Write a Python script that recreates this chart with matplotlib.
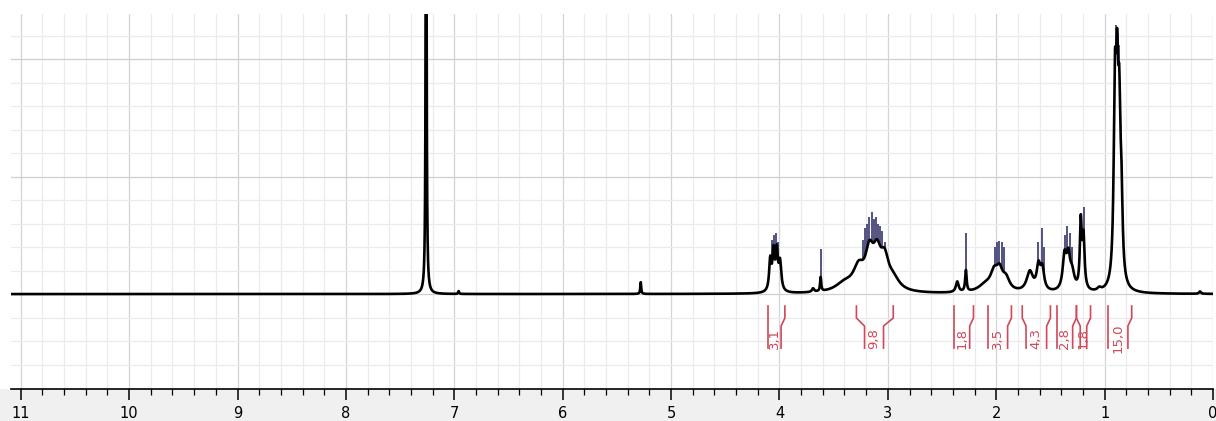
import numpy as np
import matplotlib
matplotlib.use("Agg")
import matplotlib.pyplot as plt
from matplotlib.patches import Rectangle

# ---------------- data ----------------
# peak list: chemical shift (ppm), height (grid units), half width (ppm)
peak_ppm = [7.26, 6.96, 5.28, 4.085, 4.055, 4.025, 3.995, 3.69, 3.62,
            3.40, 3.27, 3.17, 3.10, 3.03, 2.95, 2.36, 2.28, 2.10, 2.02, 1.97,
            1.91, 1.69, 1.61, 1.575, 1.37, 1.335, 1.30, 1.22, 1.195, 1.05,
            0.905, 0.885, 0.865, 0.845, 0.12]
peak_h = [30.0, 0.12, 0.5, 1.3, 1.6, 1.6, 1.2, 0.15, 0.6,
          0.35, 0.9, 1.45, 1.35, 1.15, 0.45, 0.45, 0.9, 0.3, 0.7, 0.75,
          0.5, 0.85, 1.0, 0.9, 1.4, 1.3, 0.7, 2.8, 2.2, 0.12,
          7.5, 7.0, 6.0, 3.0, 0.1]
peak_w = [0.004, 0.005, 0.005, 0.012, 0.012, 0.012, 0.014, 0.012, 0.006,
          0.10, 0.06, 0.045, 0.045, 0.045, 0.07, 0.015, 0.008, 0.08, 0.04, 0.035,
          0.04, 0.035, 0.02, 0.02, 0.02, 0.02, 0.025, 0.01, 0.012, 0.02,
          0.013, 0.013, 0.013, 0.013, 0.01]

# peak-picking markers (blue): position (ppm) and top (grid units)
mark_ppm = [4.07, 4.05, 4.03, 4.01, 3.615,
            3.23, 3.21, 3.19, 3.17, 3.15, 3.13, 3.11, 3.09, 3.07, 3.05, 3.03,
            2.28, 2.01, 1.99, 1.97, 1.95, 1.93,
            1.61, 1.58, 1.56, 1.37, 1.345, 1.32, 1.30, 1.215, 1.19,
            0.895, 0.88, 0.87]
mark_top = [2.3, 2.5, 2.6, 2.2, 1.9,
            2.3, 2.8, 3.0, 3.3, 3.5, 3.2, 3.3, 3.0, 2.9, 2.7, 2.2,
            2.6, 2.0, 2.2, 2.25, 2.2, 2.0,
            2.2, 2.8, 2.0, 2.5, 2.9, 2.6, 2.0, 3.0, 3.7,
            11.45, 11.1, 10.6]

# integrals: start / end (ppm) and value label
int_start = [4.11, 3.29, 2.39, 2.08, 1.76, 1.44, 1.26, 0.97]
int_end = [3.95, 2.95, 2.21, 1.86, 1.50, 1.26, 1.13, 0.75]
int_label = ["3,1", "9,8", "1,8", "3,5", "4,3", "2,8", "1,8", "15,0"]
int_left_bend = [False, True, False, False, True, False, True, False]

x_ticks = list(range(11, -1, -1))

# ---------------- figure ----------------
W, H = 1216, 421
fig = plt.figure(figsize=(W / 100, H / 100), dpi=100, facecolor="white")
fig.patches.append(Rectangle((0, 0), 1, 32 / H, transform=fig.transFigure,
                             facecolor="#f0f0f0", edgecolor="none", zorder=-5))
ax = fig.add_axes([11 / W, 32 / H, 1202 / W, 375 / H])
ax.set_zorder(2)
ax.set_facecolor("white")

x = np.linspace(11.09, 0.0, 12000)
y = np.zeros_like(x)
for p, h, w in zip(peak_ppm, peak_h, peak_w):
    y += h * w ** 2 / ((x - p) ** 2 + w ** 2)

# grid
for v in np.arange(0, 11.01, 0.2):
    major = abs(v - round(v)) < 1e-6
    ax.axvline(v, color="#d4d4d4" if major else "#ebebeb", lw=0.9, zorder=1)
for hgt in range(-3, 12):
    ax.axhline(hgt, color="#cfcfcf" if hgt % 5 == 0 else "#ebebeb", lw=0.9, zorder=1)

# spectrum
ax.plot(x, y, color="black", lw=1.9, zorder=4, solid_joinstyle="round")

# peak markers
env = np.interp(mark_ppm, x[::-1], y[::-1])
ax.vlines(mark_ppm, env, mark_top, color="#45457a", lw=1.3, zorder=3)

# integrals
red = "#d0485a"
ytop, ybend1, ybend2, ybot = -0.51, -1.02, -1.36, -2.3
for s, e, lab, lb in zip(int_start, int_end, int_label, int_left_bend):
    bend = 0.035
    li = s - (0.075 if lb and (s - e) > 0.3 else (bend if lb else 0.0))
    ri = e + (0.09 if (s - e) > 0.3 else bend)
    ax.plot([s, s, li, li], [ytop, ybend1, ybend2, ybot], color=red, lw=1.2, zorder=4)
    ax.plot([e, e, ri, ri], [ytop, ybend1, ybend2, ybot], color=red, lw=1.2, zorder=4)
    ax.text((li + ri) / 2, -1.9, lab, rotation=90, ha="center", va="center",
            color=red, fontsize=9.5, family="DejaVu Sans", zorder=5)

ax.set_xlim(11.09, 0.0)
ax.set_ylim(-4.04, 11.92)
ax.set_xticks(x_ticks)
ax.set_xticklabels([str(t) for t in x_ticks])
ax.set_xticks(np.arange(0, 11.01, 0.2), minor=True)
ax.set_yticks([])
for sp in ["top", "left", "right"]:
    ax.spines[sp].set_visible(False)
ax.spines["bottom"].set_color("black")
ax.spines["bottom"].set_linewidth(1.2)
ax.tick_params(axis="x", which="major", length=8, width=1.1, direction="out",
               labelsize=10.5, pad=4, colors="black")
ax.tick_params(axis="x", which="minor", length=4, width=0.9, direction="out")
for t in ax.get_xticklabels():
    t.set_family("DejaVu Sans")

fig.savefig("out.png", dpi=100, facecolor=fig.get_facecolor())
